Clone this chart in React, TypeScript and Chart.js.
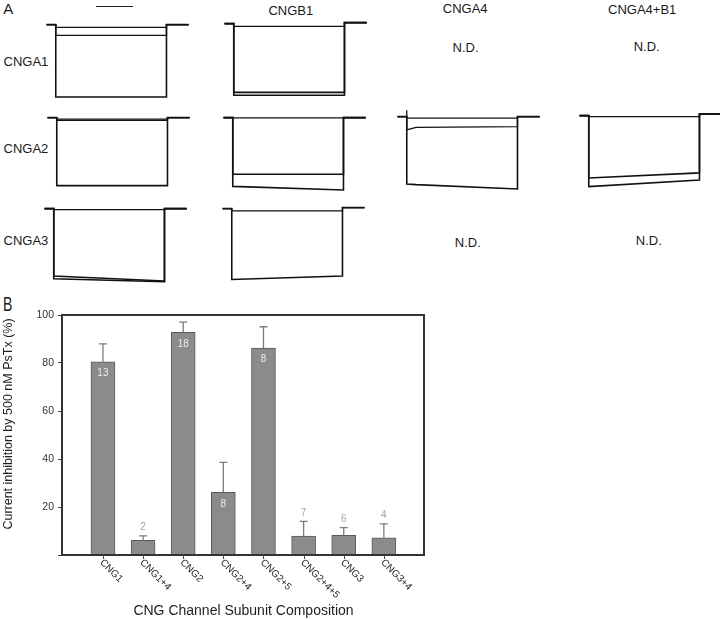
import React, { useEffect, useRef } from "react";
import { Chart, registerables } from "chart.js";

Chart.register(...registerables);

const FONT = '"Liberation Sans", Arial, Helvetica, sans-serif';

// ---------------- Panel B data ----------------
const CATEGORIES = ["CNG1", "CNG1+4", "CNG2", "CNG2+4", "CNG2+5", "CNG2+4+5", "CNG3", "CNG3+4"];
const INHIBITION = [80.5, 6.1, 92.8, 26.1, 86.2, 7.9, 8.2, 7.2];
const SEM = [7.5, 1.9, 4.2, 12.5, 8.9, 6.1, 3.2, 5.8];
const N_CELLS = [13, 2, 18, 8, 8, 7, 6, 4];
const Y_MIN = 0;
const Y_MAX = 100;
const Y_STEP = 20;
const X_TITLE = "CNG Channel Subunit Composition";
const Y_TITLE = "Current inhibition by 500 nM PsTx (%)";

// ---------------- Panel A data (current as fraction of control, time in ms) ----------------
const T_PRE = -25;
const T_ON = 0;
const T_EARLY = 25;
const T_OFF = 300;
const T_POST = 360;

const A1_ON = [-1.01, -0.15, -0.04];
const A1_OFF = [-1.01, -0.15, -0.04];
const A1_POST = 0;

const A1B1_ON = [-1.0, -0.96, -0.04];
const A1B1_OFF = [-1.0, -0.96, -0.04];
const A1B1_POST = 0.014;

const A2_ON = [-0.95, -0.04, -0.02];
const A2_OFF = [-0.95, -0.04, -0.02];
const A2_POST = 0;

const A2B1_ON = [-0.96, -0.79, -0.005];
const A2B1_OFF = [-1.01, -0.79, -0.005];
const A2B1_POST = 0;

const A4_ON = [-0.94, -0.185, -0.02];
const A4_EARLY = [-0.95, -0.15, -0.02];
const A4_OFF = [-1.01, -0.14, -0.02];
const A4_POST = 0;
const A4_TRANSIENT = 0.09;

const A4B1_ON = [-0.99, -0.87, -0.014];
const A4B1_OFF = [-0.9, -0.8, -0.014];
const A4B1_POST = 0.02;

const A3_ON = [-0.94, -0.98, -0.014];
const A3_OFF = [-1.01, -1.02, -0.014];
const A3_POST = 0;

const A3B1_ON = [-0.99, -0.033];
const A3B1_OFF = [-0.94, -0.033];
const A3B1_POST = 0.014;

type Cell = {
  on: number[];
  off: number[];
  early?: number[];
  post: number;
  transient?: number;
  left: number;
  top: number;
};

const CELLS: Cell[] = [
  { on: A1_ON, off: A1_OFF, post: A1_POST, left: 41, top: 16 },
  { on: A1B1_ON, off: A1B1_OFF, post: A1B1_POST, left: 219, top: 15 },
  { on: A2_ON, off: A2_OFF, post: A2_POST, left: 42, top: 109 },
  { on: A2B1_ON, off: A2B1_OFF, post: A2B1_POST, left: 218, top: 109 },
  { on: A4_ON, off: A4_OFF, early: A4_EARLY, post: A4_POST, transient: A4_TRANSIENT, left: 392, top: 108 },
  { on: A4B1_ON, off: A4B1_OFF, post: A4B1_POST, left: 574, top: 107 },
  { on: A3_ON, off: A3_OFF, post: A3_POST, left: 39, top: 200 },
  { on: A3B1_ON, off: A3B1_OFF, post: A3B1_POST, left: 217, top: 200 },
];

const CELL_W = 155;
const CELL_H = 91;

function TraceCell({ cell }: { cell: Cell }) {
  const ref = useRef<HTMLCanvasElement>(null);
  useEffect(() => {
    if (!ref.current) return;
    const datasets: any[] = cell.on.map((on, k) => {
      const pts: { x: number; y: number }[] = [
        { x: T_PRE, y: 0 },
        { x: T_ON, y: 0 },
        { x: T_ON, y: on },
      ];
      if (cell.early) pts.push({ x: T_EARLY, y: cell.early[k] });
      pts.push({ x: T_OFF, y: cell.off[k] });
      pts.push({ x: T_OFF, y: cell.post });
      pts.push({ x: T_POST, y: cell.post });
      return {
        data: pts,
        showLine: true,
        borderColor: "#111",
        borderWidth: Math.abs(on) > 0.5 ? 1.6 : 1.3,
        pointRadius: 0,
        fill: false,
      };
    });
    if (cell.transient) {
      datasets.push({
        data: [
          { x: T_ON, y: 0 },
          { x: T_ON, y: cell.transient },
        ],
        showLine: true,
        borderColor: "#111",
        borderWidth: 1.3,
        pointRadius: 0,
      });
    }
    const chart = new Chart(ref.current, {
      type: "scatter",
      data: { datasets },
      options: {
        responsive: false,
        animation: false,
        devicePixelRatio: 1,
        events: [],
        layout: { padding: 0 },
        plugins: { legend: { display: false }, tooltip: { enabled: false } },
        scales: {
          x: { type: "linear", display: false, min: -40, max: 380 },
          y: { type: "linear", display: false, min: -1.15, max: 0.12 },
        },
      },
    } as any);
    return () => chart.destroy();
  }, [cell]);
  return (
    <canvas
      ref={ref}
      width={CELL_W}
      height={CELL_H}
      style={{ position: "absolute", left: cell.left, top: cell.top, width: CELL_W, height: CELL_H }}
    />
  );
}

const panelBPlugin = {
  id: "panelBDecor",
  afterDatasetsDraw(chart: any) {
    const { ctx, chartArea: a } = chart;
    ctx.save();
    ctx.strokeStyle = "#333";
    ctx.lineWidth = 2;
    ctx.strokeRect(a.left, a.top, a.right - a.left, a.bottom - a.top);
    ctx.restore();
  },
  afterDraw(chart: any) {
    const { ctx, chartArea: a, scales } = chart;
    const xs = scales.x;
    const ys = scales.y;
    ctx.save();
    // error bars (upper only)
    ctx.strokeStyle = "#7c7c7c";
    ctx.lineWidth = 1.3;
    CATEGORIES.forEach((_, i) => {
      const px = xs.getPixelForValue(i);
      const y0 = ys.getPixelForValue(INHIBITION[i]);
      const y1 = ys.getPixelForValue(INHIBITION[i] + SEM[i]);
      ctx.beginPath();
      ctx.moveTo(px, y0);
      ctx.lineTo(px, y1);
      ctx.moveTo(px - 4, y1);
      ctx.lineTo(px + 4, y1);
      ctx.stroke();
    });
    // x tick marks
    ctx.lineWidth = 1;
    ctx.strokeStyle = "#444";
    CATEGORIES.forEach((_, i) => {
      const px = Math.round(xs.getPixelForValue(i)) + 0.5;
      ctx.beginPath();
      ctx.moveTo(px, a.bottom);
      ctx.lineTo(px, a.bottom + 4);
      ctx.stroke();
    });
    // n labels
    ctx.font = `10px ${FONT}`;
    ctx.textAlign = "center";
    ctx.textBaseline = "middle";
    CATEGORIES.forEach((_, i) => {
      const px = xs.getPixelForValue(i);
      if (INHIBITION[i] > 20) {
        ctx.fillStyle = "#ededed";
        ctx.fillText(String(N_CELLS[i]), px, ys.getPixelForValue(INHIBITION[i]) + 11.5);
      } else {
        ctx.fillStyle = "#a4a4a4";
        ctx.fillText(String(N_CELLS[i]), px, ys.getPixelForValue(INHIBITION[i] + SEM[i]) - 8.5);
      }
    });
    // rotated category labels
    ctx.fillStyle = "#222";
    ctx.font = `10px ${FONT}`;
    ctx.textAlign = "left";
    ctx.textBaseline = "middle";
    CATEGORIES.forEach((c, i) => {
      const px = xs.getPixelForValue(i);
      ctx.save();
      ctx.translate(px - 1.5, a.bottom + 6);
      ctx.rotate(Math.PI / 4);
      ctx.fillText(c, 0, 0);
      ctx.restore();
    });
    // axis titles
    ctx.fillStyle = "#1e1e1e";
    ctx.textAlign = "center";
    ctx.textBaseline = "middle";
    ctx.font = `14px ${FONT}`;
    ctx.fillText(X_TITLE, (a.left + a.right) / 2 + 0.5, a.bottom + 56);
    ctx.save();
    ctx.translate(8.5, a.top + 109);
    ctx.rotate(-Math.PI / 2);
    ctx.font = `12.5px ${FONT}`;
    ctx.fillText(Y_TITLE, 0, 0);
    ctx.restore();
    ctx.restore();
  },
};

function BarPanel() {
  const ref = useRef<HTMLCanvasElement>(null);
  useEffect(() => {
    if (!ref.current) return;
    const chart = new Chart(ref.current, {
      type: "bar",
      data: {
        datasets: [
          {
            data: CATEGORIES.map((_, i) => ({ x: i, y: INHIBITION[i] })),
            backgroundColor: "#8b8b8b",
            borderColor: "#5a5a5a",
            borderWidth: 1,
            barThickness: 24,
          },
        ],
      },
      options: {
        responsive: false,
        animation: false,
        devicePixelRatio: 1,
        events: [],
        layout: { padding: { top: 30, right: 16, left: 0, bottom: 0 } },
        plugins: { legend: { display: false }, tooltip: { enabled: false } },
        scales: {
          x: {
            type: "linear",
            offset: false,
            min: -1.02,
            max: 8,
            ticks: { display: false },
            grid: { display: false },
            border: { display: false },
            afterFit: (s: any) => {
              s.height = 65;
            },
          },
          y: {
            type: "linear",
            min: Y_MIN,
            max: Y_MAX,
            ticks: {
              stepSize: Y_STEP,
              callback: (v: any) => (v === 0 ? "" : String(v)),
              font: { size: 10.5, family: FONT },
              color: "#333",
              padding: 4,
            },
            grid: { drawOnChartArea: false, drawTicks: true, tickLength: 4, color: "#444", lineWidth: 1 },
            border: { display: false },
            afterFit: (s: any) => {
              s.width = 62;
            },
          },
        },
      },
      plugins: [panelBPlugin],
    } as any);
    return () => chart.destroy();
  }, []);
  return (
    <canvas
      ref={ref}
      width={440}
      height={335}
      style={{ position: "absolute", left: 0, top: 285, width: 440, height: 335 }}
    />
  );
}

function Label({
  text,
  x,
  cy,
  fs,
  center,
  scaleX,
}: {
  text: string;
  x: number;
  cy: number;
  fs: number;
  center?: boolean;
  scaleX?: number;
}) {
  const transforms: string[] = [];
  if (center) transforms.push("translateX(-50%)");
  if (scaleX) transforms.push(`scaleX(${scaleX})`);
  return (
    <div
      style={{
        position: "absolute",
        left: x,
        top: cy - 0.4885 * fs,
        fontSize: fs,
        lineHeight: `${fs}px`,
        whiteSpace: "nowrap",
        color: "#1a1a1a",
        transform: transforms.length ? transforms.join(" ") : undefined,
        transformOrigin: center ? "50% 50%" : "0 50%",
      }}
    >
      {text}
    </div>
  );
}

export default function App() {
  return (
    <div
      style={{
        position: "absolute",
        left: 0,
        top: 0,
        width: 720,
        height: 620,
        overflow: "hidden",
        background: "#fff",
        fontFamily: FONT,
      }}
    >
      <Label text="A" x={3.3} cy={8.7} fs={15} />
      <Label text="B" x={3.3} cy={303} fs={21} scaleX={0.67} />
      <div style={{ position: "absolute", left: 96, top: 6, width: 37, height: 1, background: "#222" }} />
      <Label text="CNGB1" x={290.8} cy={10} fs={13} center />
      <Label text="CNGA4" x={465.2} cy={8.3} fs={13} center />
      <Label text="CNGA4+B1" x={642.2} cy={9.5} fs={13} center />
      <Label text="CNGA1" x={3.5} cy={61} fs={13} />
      <Label text="CNGA2" x={3.5} cy={148} fs={13} />
      <Label text="CNGA3" x={3.5} cy={240.3} fs={13} />
      <Label text="N.D." x={465.5} cy={47.8} fs={13} center />
      <Label text="N.D." x={646.7} cy={46.7} fs={13} center />
      <Label text="N.D." x={467.8} cy={242} fs={13} center />
      <Label text="N.D." x={648.8} cy={240.3} fs={13} center />
      {CELLS.map((c, i) => (
        <TraceCell key={i} cell={c} />
      ))}
      <BarPanel />
    </div>
  );
}
